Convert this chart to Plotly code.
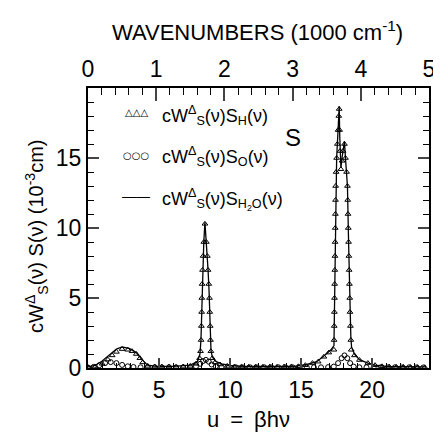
import plotly.graph_objects as go

# ---- data ----
# S_H (triangles): u = beta*h*nu, value in 1e-3 cm
h_u = [0.0, 0.5, 1.0, 1.4, 1.7, 2.0, 2.4, 2.8, 3.1, 3.4, 3.65, 3.85, 4.2, 4.7, 5.2, 5.7, 6.2, 6.7, 7.2, 7.6,
       7.85, 7.92, 7.96, 7.98, 8.0, 8.01, 8.03, 8.06, 8.1, 8.15, 8.23,
       8.33, 8.4, 8.45, 8.5, 8.55, 8.57, 8.6, 8.62, 8.65, 8.75, 8.95,
       9.3, 9.8, 10.3, 10.8, 11.3, 11.8, 12.3, 12.8, 13.3, 13.8, 14.3, 14.8, 15.3, 15.8, 16.2, 16.6, 16.95,
       17.31, 17.32, 17.33, 17.34, 17.35, 17.36, 17.37, 17.38, 17.39, 17.4, 17.41, 17.42, 17.43, 17.46, 17.5,
       17.55, 17.6, 17.65, 17.68, 17.71, 17.74, 17.8, 17.88, 17.95, 18.05, 18.12, 18.2, 18.26, 18.28, 18.3,
       18.32, 18.34, 18.36, 18.38, 18.4, 18.42, 18.44, 18.47, 18.5, 18.53, 18.75, 19.1, 19.7, 20.2,
       20.7, 21.2, 21.7, 22.2, 22.7, 23.2, 23.7]
h_v = [0.05, 0.1, 0.3, 0.6, 0.9, 1.15, 1.35, 1.3, 1.2, 1.0, 0.7, 0.4, 0.15, 0.1, 0.1, 0.1, 0.08, 0.1, 0.15, 0.3,
       0.7, 1.2, 2.0, 3.0, 4.0, 5.0, 6.0, 7.0, 8.0, 9.0, 10.3,
       9.0, 8.0, 7.0, 6.0, 5.0, 4.0, 3.0, 2.0, 1.2, 0.7, 0.4,
       0.25, 0.15, 0.1, 0.1, 0.08, 0.1, 0.08, 0.1, 0.08, 0.1, 0.1, 0.12, 0.2, 0.35, 0.45, 0.8, 1.1,
       1.3, 2.0, 3.0, 4.0, 5.0, 6.0, 7.0, 8.0, 9.0, 10.0, 11.0, 12.0, 13.0, 14.0, 15.0,
       16.0, 17.0, 18.0, 18.5, 17.0, 15.5, 14.2, 14.8, 15.5, 16.0, 15.0, 14.0, 13.0, 12.0, 11.0,
       10.0, 9.0, 8.0, 7.0, 6.0, 5.0, 4.0, 3.0, 2.0, 1.3, 0.9, 0.57, 0.35, 0.2,
       0.12, 0.1, 0.08, 0.08, 0.06, 0.06, 0.05]

# S_O (circles)
o_u = [0.0, 0.4, 0.8, 1.2, 1.6, 2.0, 2.4, 2.8, 3.2, 3.7, 4.2, 4.7, 5.2, 5.7, 6.2, 6.7, 7.2, 7.6, 7.9, 8.1,
       8.3, 8.5, 8.7, 9.0, 9.4, 9.9, 10.4, 10.9, 11.4, 11.9, 12.4, 12.9, 13.4, 13.9, 14.4, 14.9, 15.4, 15.9,
       16.4, 16.9, 17.3, 17.6, 17.85, 18.05, 18.25, 18.45, 18.7, 19.1, 19.6, 20.1, 20.6, 21.1, 21.6, 22.1,
       22.6, 23.1, 23.6]
o_v = [0.03, 0.08, 0.2, 0.35, 0.42, 0.35, 0.22, 0.12, 0.07, 0.05, 0.05, 0.05, 0.04, 0.05, 0.04, 0.05, 0.06, 0.12,
       0.3, 0.5, 0.58, 0.45, 0.25, 0.12, 0.07, 0.05, 0.05, 0.04, 0.05, 0.04, 0.05, 0.04, 0.05, 0.04, 0.05, 0.05,
       0.05, 0.05, 0.05, 0.06, 0.1, 0.35, 0.7, 0.9, 0.7, 0.35, 0.1, 0.05, 0.05, 0.04, 0.05, 0.04, 0.05, 0.04,
       0.05, 0.04, 0.04]

# S_H2O (solid line)
w_u = [0.0, 0.5, 1.0, 1.5, 2.0, 2.4, 2.9, 3.4, 3.8, 4.2, 4.8, 6.0, 7.2, 7.7, 7.88, 7.95, 8.0, 8.02, 8.06, 8.1,
       8.15, 8.23, 8.33, 8.4, 8.45, 8.52, 8.57, 8.62, 8.66, 8.75, 8.95, 9.4, 10.0, 11.0, 13.0, 14.5, 15.4,
       16.1, 16.7, 17.1, 17.31, 17.35, 17.4, 17.43, 17.5, 17.6, 17.68, 17.72, 17.76, 17.8, 17.88, 18.05,
       18.12, 18.2, 18.26, 18.34, 18.42, 18.5, 18.55, 18.75, 19.1, 19.7, 20.2, 21.0, 22.0, 23.8]
w_v = [0.08, 0.18, 0.5, 0.95, 1.35, 1.5, 1.4, 1.1, 0.6, 0.2, 0.12, 0.12, 0.2, 0.45, 1.0, 2.0, 4.0, 5.0, 7.0, 8.0,
       9.0, 10.4, 9.0, 8.0, 7.0, 5.5, 4.0, 2.0, 1.2, 0.8, 0.5, 0.3, 0.18, 0.12, 0.1, 0.12, 0.25,
       0.45, 0.95, 1.3, 1.6, 5.0, 10.0, 13.0, 15.0, 17.0, 18.7, 16.5, 15.0, 14.3, 15.0, 16.2,
       15.0, 14.0, 13.0, 9.0, 5.0, 2.2, 1.5, 1.0, 0.6, 0.35, 0.2, 0.12, 0.1, 0.08]

x_range = [0, 24]
y_range = [0, 20]
wn_range = [0, 5]  # thousand cm^-1 on top axis (same pixel span)
x_ticks = [0, 5, 10, 15, 20]
y_ticks = [0, 5, 10, 15]
wn_ticks = [0, 1, 2, 3, 4, 5]

FONT = "Liberation Sans, Arial, sans-serif"

fig = go.Figure()
fig.add_trace(go.Scatter(x=w_u, y=w_v, mode="lines", line=dict(color="black", width=1.3),
                         showlegend=False, hoverinfo="skip"))
fig.add_trace(go.Scatter(x=h_u, y=h_v, mode="markers",
                         marker=dict(symbol="triangle-up-open", size=5, color="black", line=dict(width=1)),
                         showlegend=False))
fig.add_trace(go.Scatter(x=o_u, y=o_v, mode="markers",
                         marker=dict(symbol="circle-open", size=5, color="black", line=dict(width=1)),
                         showlegend=False))
# invisible trace to activate top axis
fig.add_trace(go.Scatter(x=wn_range, y=[None, None], xaxis="x2", mode="markers", showlegend=False,
                         marker=dict(opacity=0)))

# The page body has an 8px margin, so the figure is sized to the visible area
OFF = 8
W, H = 441 - OFF, 438 - OFF
# plot frame in screenshot pixels
SL, SR, ST, SB = 88, 435, 88, 368
PL, PR, PT, PB = SL - OFF, SR - OFF, ST - OFF, SB - OFF

tickfont = dict(family=FONT, size=23, color="black")
fig.update_layout(
    width=W, height=H,
    margin=dict(l=PL, r=W - PR, t=PT, b=H - PB),
    paper_bgcolor="white", plot_bgcolor="white",
    font=dict(family=FONT, color="black"),
    xaxis=dict(range=x_range, tickvals=x_ticks, ticks="inside", ticklen=10, tickwidth=1.5,
               showline=True, linewidth=2, linecolor="black", mirror=False, showgrid=False, zeroline=False,
               tickfont=tickfont,
               minor=dict(dtick=1, ticks="inside", ticklen=5, tickwidth=1, tickcolor="black")),
    xaxis2=dict(range=wn_range, tickvals=wn_ticks, overlaying="x", side="top", ticks="inside", ticklen=13,
                tickwidth=1.5, showline=True, linewidth=2, linecolor="black", showgrid=False, zeroline=False,
                tickfont=tickfont,
                minor=dict(dtick=0.2, ticks="inside", ticklen=7, tickwidth=1, tickcolor="black")),
    yaxis=dict(range=y_range, tickvals=y_ticks, ticks="inside", ticklen=11, tickwidth=1.5,
               showline=True, linewidth=2, linecolor="black", mirror="ticks", showgrid=False, zeroline=False,
               tickfont=tickfont,
               minor=dict(dtick=1, ticks="inside", ticklen=6, tickwidth=1, tickcolor="black")),
)

# annotations positioned in screenshot pixels, converted to plot-area fractions
SYM = "DejaVu Sans, sans-serif"
ann = [
    dict(text="WAVENUMBERS (1000 cm<sup>-1</sup>)", x=260, y=31, size=22),
    dict(text="u\u2002=\u2002βhν", x=251, y=419, size=22),
    dict(text="cW<sup>Δ</sup><sub>S</sub>(ν) S(ν) (10<sup>-3</sup>cm)", x=35, y=236, textangle=-90, size=20),
    dict(text="S", x=297, y=137, size=24),
    dict(text="△△△", x=137, y=112, size=10, fam=SYM),
    dict(text="○○○", x=137, y=155, size=10, fam=SYM),
    dict(text="——", x=137, y=196, size=14),
    dict(text="cW<sup>Δ</sup><sub>S</sub>(ν)S<sub>H</sub>(ν)", x=161, y=115, left=True, size=18),
    dict(text="cW<sup>Δ</sup><sub>S</sub>(ν)S<sub>O</sub>(ν)", x=161, y=156, left=True, size=18),
    dict(text="cW<sup>Δ</sup><sub>S</sub>(ν)S<sub>H<sub>2</sub>O</sub>(ν)", x=161, y=199, left=True, size=18),
]
annotations = []
for a in ann:
    annotations.append(dict(
        text=a["text"],
        x=(a["x"] - SL) / (SR - SL), y=(SB - a["y"]) / (SB - ST),
        xref="paper", yref="paper",
        xanchor="left" if a.get("left") else "center", yanchor="middle", showarrow=False,
        textangle=a.get("textangle", 0),
        font=dict(family=a.get("fam", FONT), size=a.get("size", 21), color="black")))
fig.update_layout(annotations=annotations)

fig.write_html("out.html")
